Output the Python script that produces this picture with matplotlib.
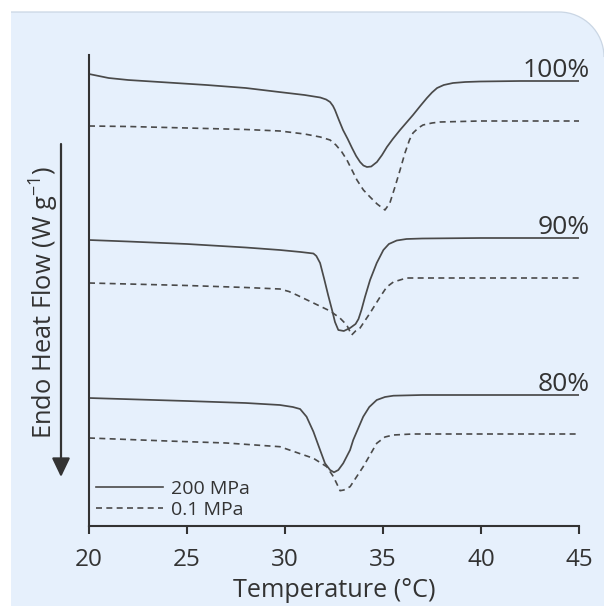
import matplotlib
matplotlib.use("Agg")
import matplotlib.pyplot as plt
from matplotlib.path import Path
from matplotlib.patches import PathPatch, FancyArrowPatch
from matplotlib.lines import Line2D
from matplotlib.transforms import IdentityTransform

plt.rcParams['font.family'] = ['Open Sans', 'DejaVu Sans']
plt.rcParams['mathtext.fontset'] = 'custom'
plt.rcParams['mathtext.rm'] = 'Open Sans'

# ---------------- data (heat flow in arbitrary units, offset per sample) -------------
T100_hp = [20.0, 20.5, 21.0, 22.0, 24.0, 26.0, 28.0, 29.7, 31.0, 31.8, 32.1, 32.3, 32.45,
           32.55, 32.75, 32.96, 33.2, 33.42, 33.63, 33.83, 34.0, 34.18, 34.4, 34.69, 34.95,
           35.2, 35.5, 35.87, 36.2, 36.53, 36.9, 37.24, 37.5, 37.76, 38.1, 38.57, 39.2,
           39.95, 42.0, 45.0]
H100_hp = [452, 450, 448, 446, 443.5, 441, 438, 434, 431, 428.5, 426.5, 424, 420, 416, 406,
           396, 387, 378, 370, 364, 360.5, 359, 359.5, 364, 371, 379, 387, 396, 403.5, 411,
           420, 428, 433.5, 438, 441, 443, 444, 444.5, 445, 445]

T100_ap = [20.0, 22.0, 25.0, 28.0, 29.74, 31.0, 31.8, 32.3, 32.6, 32.9, 33.16, 33.67, 34.0,
           34.34, 34.7, 35.1, 35.35, 35.61, 35.87, 36.12, 36.35, 36.53, 36.8, 37.04, 37.5,
           37.91, 39.95, 45.0]
H100_ap = [400, 399.5, 398, 396.5, 395, 392, 389, 386, 381, 374, 366, 346, 336, 329, 322,
           316, 323, 339, 356, 373, 386, 393, 398, 401, 403, 404, 405, 405]

T90_hp = [20.0, 22.0, 25.0, 28.0, 29.74, 30.8, 31.45, 31.6, 31.79, 32.0, 32.2, 32.4, 32.55,
          32.72, 33.0, 33.32, 33.6, 33.75, 33.9, 34.08, 34.34, 34.68, 35.02, 35.3, 35.7,
          36.2, 37.0, 40.0, 45.0]
H90_hp = [286, 284.5, 282, 278.5, 276, 274, 272.5, 270, 263, 247, 231, 216, 204, 196, 195,
          198, 202, 207, 216, 229, 246, 263, 276, 282, 285.5, 287, 287.5, 288, 288]

T90_ap = [20.0, 25.0, 28.0, 29.74, 30.2, 30.6, 31.45, 32.3, 32.8, 33.15, 33.4, 33.6, 33.83,
          34.34, 34.85, 35.19, 35.53, 36.2, 39.95, 45.0]
H90_ap = [243, 240.5, 238.5, 237, 234.5, 231, 223, 215, 208, 201, 191, 195, 198, 213, 229,
          239, 244, 248, 248, 248]

T80_hp = [20.0, 25.0, 28.0, 29.74, 30.4, 30.77, 31.1, 31.45, 31.79, 32.04, 32.3, 32.5, 32.72,
          32.97, 33.32, 33.48, 33.99, 34.3, 34.68, 35.1, 35.53, 37.0, 45.0]
H80_hp = [128, 125, 123, 121, 119, 117, 109.3, 94.3, 76, 62.7, 56, 53.7, 56, 62.7, 76, 86,
          109.3, 119, 126, 129, 130.3, 131, 131]

T80_ap = [20.0, 24.0, 27.0, 29.74, 31.45, 32.13, 32.47, 32.65, 32.81, 33.0, 33.32, 33.99,
          34.68, 35.1, 35.53, 36.5, 39.95, 45.0]
H80_ap = [88, 85, 83, 79.3, 67.7, 59.3, 49.3, 42, 35.3, 36, 39.3, 59.3, 82.7, 89, 91, 92, 92, 92]

samples = ['100%', '90%', '80%']
pressures = ['200 MPa', '0.1 MPa']
x_ticks = [20, 25, 30, 35, 40, 45]

curves_hp = [(T100_hp, H100_hp), (T90_hp, H90_hp), (T80_hp, H80_hp)]
curves_ap = [(T100_ap, H100_ap), (T90_ap, H90_ap), (T80_ap, H80_ap)]

# ---------------- figure ----------------
W, H = 604, 606
fig = plt.figure(figsize=(W / 100, H / 100), dpi=100)
fig.patch.set_facecolor('white')

# rounded light-blue panel (pixel coords, origin bottom-left)
x0, top, r = 11, H - 12, 45
verts = [(x0, 0), (x0, top), (W - r, top), (W - r + 0.5523 * r, top), (W, top - r + 0.5523 * r),
         (W, top - r), (W, 0), (x0, 0)]
codes = [Path.MOVETO, Path.LINETO, Path.LINETO, Path.CURVE4, Path.CURVE4, Path.CURVE4,
         Path.LINETO, Path.CLOSEPOLY]
panel = PathPatch(Path(verts, codes), facecolor='#e6f0fc', edgecolor='none',
                  transform=IdentityTransform(), zorder=-2)
fig.patches.append(panel)
edge = PathPatch(Path(verts[1:6], [Path.MOVETO, Path.LINETO, Path.CURVE4, Path.CURVE4, Path.CURVE4]),
                 facecolor='none', edgecolor='#cad6e4', lw=0.9,
                 transform=IdentityTransform(), zorder=-1)
fig.patches.append(edge)

ax = fig.add_axes([89 / W, 1 - 526 / H, 490 / W, 471 / H])
ax.set_facecolor('none')
ax.set_xlim(20, 45)
ax.set_ylim(0, 471)

line_col = '#4a4a4a'
txt_col = '#333333'
for (t, h) in curves_hp:
    ax.plot(t, h, color=line_col, lw=1.25, solid_capstyle='butt', solid_joinstyle='round',
            clip_on=False)
for (t, h) in curves_ap:
    ln, = ax.plot(t, h, color=line_col, lw=1.2, clip_on=False)
    ln.set_dashes([3.6, 2.6])

for name, (t, h) in zip(samples, curves_hp):
    ax.annotate(name, xy=(t[-1], h[-1]), xytext=(8, 3), textcoords='offset points',
                ha='right', va='baseline', fontsize=19, color=txt_col)

for s in ['top', 'right']:
    ax.spines[s].set_visible(False)
for s in ['left', 'bottom']:
    ax.spines[s].set_color(txt_col)
    ax.spines[s].set_linewidth(1.5)
ax.set_yticks([])
ax.set_xticks(x_ticks)
ax.tick_params(axis='x', direction='out', length=6, width=1.5, color=txt_col,
               labelsize=17.5, labelcolor=txt_col, pad=10)
ax.set_xlabel('Temperature (°C)', fontsize=18.2, color=txt_col, labelpad=4)

# legend
handles = [Line2D([], [], color=line_col, lw=1.2),
           Line2D([], [], color=line_col, lw=1.2, dashes=[3.6, 2.6])]
leg = ax.legend(handles, pressures, loc='center left',
                bbox_to_anchor=(96 / W, 1 - 499.5 / H), bbox_transform=fig.transFigure,
                frameon=False, fontsize=14, handlelength=3.45, handletextpad=0.42,
                labelspacing=0.18, borderpad=0, borderaxespad=0)
for t in leg.get_texts():
    t.set_color(txt_col)

# y label with downward arrow
fig.text(43 / W, 1 - 302 / H, 'Endo Heat Flow (W g$^{\\mathregular{-1}}$)', rotation=90,
         ha='center', va='center', fontsize=18.4, color=txt_col)
arrow = FancyArrowPatch((61 / W, 1 - 144 / H), (61 / W, 1 - 477 / H),
                        transform=fig.transFigure, arrowstyle='-|>,head_length=1.15,head_width=0.55',
                        mutation_scale=10, color=txt_col, lw=1.6, shrinkA=0, shrinkB=0)
fig.add_artist(arrow)

fig.savefig('out.png', dpi=100, facecolor=fig.get_facecolor())
